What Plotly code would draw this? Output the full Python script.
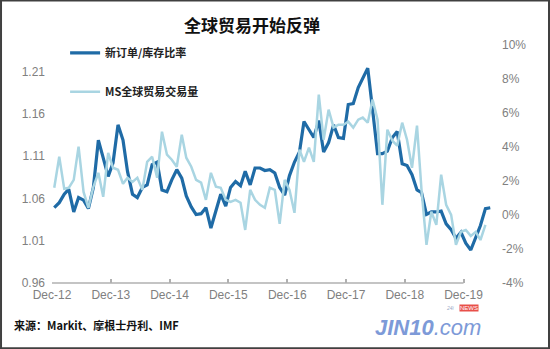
import pandas as pd
import plotly.graph_objects as go

# ---------------- data ----------------
months = pd.date_range("2012-12-01", periods=90, freq="MS") + pd.Timedelta(days=14)

# 新订单/库存比率 (left axis)
ratio = [
    1.049, 1.055, 1.065, 1.071, 1.044, 1.061, 1.058, 1.048, 1.073, 1.129,
    1.108, 1.086, 1.102, 1.147, 1.129, 1.092, 1.065, 1.061, 1.073, 1.076,
    1.100, 1.103, 1.070, 1.068, 1.082, 1.094, 1.084, 1.063, 1.050, 1.041,
    1.042, 1.049, 1.025, 1.046, 1.065, 1.051, 1.073, 1.080, 1.075, 1.092,
    1.076, 1.096, 1.096, 1.093, 1.094, 1.090, 1.073, 1.064, 1.087, 1.103,
    1.115, 1.151, 1.141, 1.132, 1.152, 1.115, 1.126, 1.147, 1.132, 1.131,
    1.171, 1.172, 1.191, 1.201, 1.214, 1.165, 1.113, 1.113, 1.116, 1.132,
    1.139, 1.101, 1.099, 1.088, 1.070, 1.067, 1.041, 1.044, 1.044, 1.045,
    1.030, 1.023, 1.013, 1.020, 1.007, 0.999, 1.013, 1.028, 1.048, 1.049,
]

# MS全球贸易交易量 (right axis, %)
trade = [
    1.60, 3.43, 1.54, 1.60, 2.07, 4.02, 1.36, 0.42, 1.66, 2.48,
    1.07, 3.66, 2.78, 2.66, 1.84, 2.19, 1.95, 2.19, 1.48, 3.13,
    3.43, 2.19, 4.90, 3.55, 3.25, 2.84, 4.72, 3.37, 2.84, 2.07,
    1.90, 0.89, 2.48, 1.66, 1.60, 0.89, 0.77, 0.89, 0.72, -0.88,
    1.48, 0.89, 0.60, 0.42, 1.60, 1.48, -0.52, 2.07, 1.48, 0.13,
    3.84, 3.13, 3.96, 3.13, 7.08, 4.43, 6.20, 5.14, 5.31, 5.31,
    5.49, 5.14, 5.61, 5.73, 5.43, 6.79, 5.61, 0.60, 5.02, 4.37,
    4.08, 5.43, 4.43, 2.78, 5.26, 1.48, -1.76, 0.19, -0.58, 2.37,
    0.60, 0.01, -1.76, -0.99, -0.88, -1.23, -0.99, -1.47, -0.58,
]

left_ticks = [0.96, 1.01, 1.06, 1.11, 1.16, 1.21]
right_ticks = [-4, -2, 0, 2, 4, 6, 8, 10]
right_text = ["-4%", "-2%", "0%", "2%", "4%", "6%", "8%", "10%"]

DARK = "#1f6ba6"
LIGHT = "#a9d5e2"
GREY = "#808080"
CJK = "Noto Sans CJK SC"
SANS = "Liberation Sans, Arial, sans-serif"

fig = go.Figure()
fig.add_trace(go.Scatter(
    x=months, y=ratio, name="新订单/库存比率", mode="lines",
    line=dict(color=DARK, width=3.2), legendgroup="a"))
fig.add_trace(go.Scatter(
    x=months[:len(trade)], y=trade, name="MS全球贸易交易量", mode="lines",
    yaxis="y2", line=dict(color=LIGHT, width=2.5), legendgroup="b"))

fig.update_layout(
    width=550, height=349,
    margin=dict(l=52, r=57, t=45, b=66),
    paper_bgcolor="white", plot_bgcolor="white",
    title=dict(text="全球贸易开始反弹", x=0.458, xanchor="center",
               y=0.924, yanchor="middle",
               font=dict(family=CJK, size=17, color="#111111", weight="bold")),
    xaxis=dict(type="date", range=["2012-12-01", "2020-06-01"],
               tick0="2012-12-01", dtick="M12", tickformat="%b-%y",
               showgrid=False, zeroline=False, showline=False,
               ticks="inside", ticklen=4, tickcolor="#b0b0b0", tickwidth=1.5,
               ticklabelstandoff=3,
               tickfont=dict(family=SANS, size=12, color=GREY)),
    yaxis=dict(range=[0.96, 1.2414], tickvals=left_ticks, tickformat=".2f",
               showgrid=False, zeroline=False, showline=False, ticks="",
               ticklabelstandoff=6,
               tickfont=dict(family=SANS, size=12, color=GREY)),
    yaxis2=dict(range=[-4, 10], overlaying="y", side="right",
                tickvals=right_ticks, ticktext=right_text,
                showgrid=False, zeroline=False, showline=False, ticks="",
                ticklabelstandoff=8,
                tickfont=dict(family=SANS, size=12, color=GREY)),
    legend=dict(x=0.0297, y=1.028, xanchor="left", yanchor="top",
                bgcolor="rgba(0,0,0,0)", itemwidth=30, tracegroupgap=20,
                font=dict(family=CJK, size=11, color="#222222", weight="bold")),
    showlegend=True,
)

# x axis line from Dec-12 to Dec-19
fig.add_shape(type="line", xref="x", yref="paper",
              x0="2012-12-01", x1="2019-12-01", y0=0, y1=0,
              line=dict(color="#b0b0b0", width=1.5))

# outer frame
fig.add_shape(type="rect", xref="paper", yref="paper",
              x0=-0.1156, x1=1.127, y0=-0.2737, y1=1.1874,
              line=dict(color="#404040", width=2), fillcolor="rgba(0,0,0,0)")

# source note
fig.add_annotation(text="来源：Markit、摩根士丹利、IMF", xref="paper", yref="paper",
                   x=-0.091, y=-0.177, xanchor="left", yanchor="middle",
                   showarrow=False,
                   font=dict(family=CJK, size=11, color="#111111", weight="bold"))

# watermark
fig.add_annotation(text="<b>JIN10</b>.com", xref="paper", yref="paper",
                   x=0.853, y=-0.185, xanchor="center", yanchor="middle",
                   showarrow=False,
                   font=dict(family=SANS, size=22, color="#7d9ad8",
                             style="italic"))
fig.add_annotation(text="24i", xref="paper", yref="paper",
                   x=0.903, y=-0.107, xanchor="center", yanchor="middle",
                   showarrow=False,
                   font=dict(family=SANS, size=5, color="#9aa8c8",
                             style="italic"))
fig.add_annotation(text="NEWS", xref="paper", yref="paper",
                   x=0.945, y=-0.107, xanchor="center", yanchor="middle",
                   showarrow=False, bgcolor="#e8504a", borderpad=0,
                   font=dict(family=SANS, size=6, color="white"))

fig.write_html("out.html", config={"displayModeBar": False})
